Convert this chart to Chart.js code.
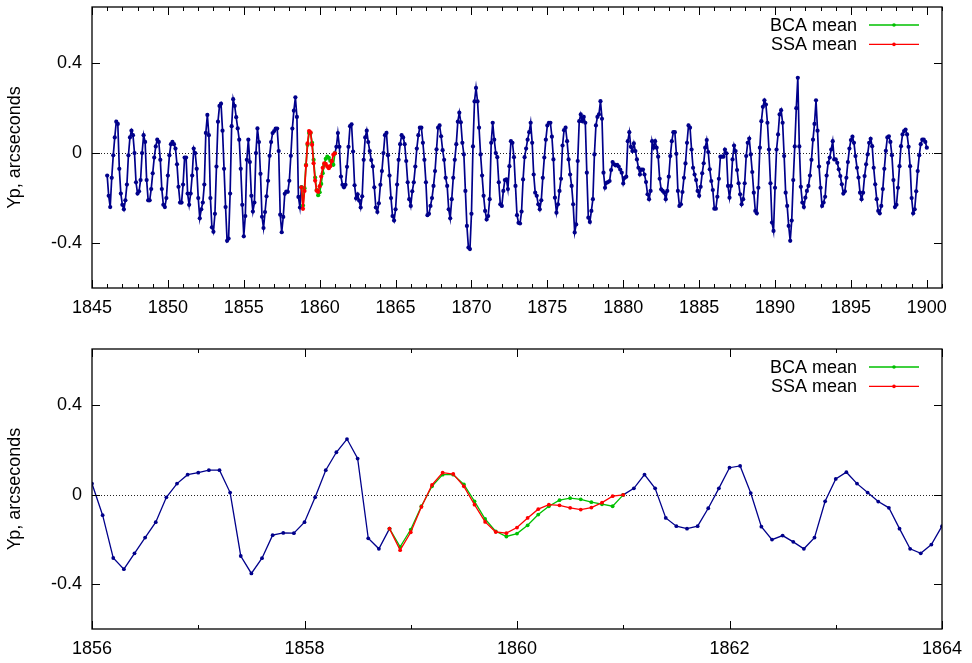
<!DOCTYPE html>
<html><head><meta charset="utf-8">
<script src="https://cdn.jsdelivr.net/npm/chart.js@4/dist/chart.umd.min.js"></script>
<style>
html,body{margin:0;padding:0;background:#fff;}
#wrap{position:relative;width:972px;height:663px;overflow:hidden;}
#c1{position:absolute;left:0;top:0;}
#c2{position:absolute;left:0;top:331px;}
</style></head><body>
<div id="wrap">
<canvas id="c1" width="972" height="331" style="width:972px;height:331px"></canvas>
<canvas id="c2" width="972" height="332" style="width:972px;height:332px"></canvas>
</div>
<script>
// ---------------- data ----------------
const startYear = 1846.0;
const stepYear = 0.1;
// Yp, arcseconds, every 0.1 year from 1846.0 to 1900.0 (null = gap)
const ypValues = [
 -0.10,-0.19,-0.24,-0.11,-0.01,0.07,0.14,0.13,-0.07,-0.18,            // 1846
 -0.23,-0.25,-0.21,-0.14,-0.01,0.07,0.10,0.08,0.00,-0.13,             // 1847
 -0.18,-0.17,-0.12,0.00,0.08,0.05,-0.12,-0.21,-0.21,-0.16,            // 1848
 -0.09,-0.02,0.03,0.06,0.05,-0.03,-0.16,-0.23,-0.24,-0.20,            // 1849
 -0.10,-0.01,0.04,0.05,0.04,0.02,-0.05,-0.15,-0.22,-0.22,             // 1850
 -0.14,-0.02,-0.02,-0.18,-0.23,-0.18,-0.10,0.02,0.00,-0.07,           // 1851
 -0.20,-0.29,-0.25,-0.22,-0.14,0.09,0.17,0.08,-0.20,-0.33,            // 1852
 -0.35,-0.27,-0.06,0.14,0.21,0.22,0.10,-0.07,-0.24,-0.39,             // 1853
 -0.38,-0.18,0.12,0.24,0.21,0.16,0.11,0.06,-0.07,-0.23,               // 1854
 -0.37,-0.28,-0.03,0.06,-0.04,-0.19,-0.26,-0.22,0.00,0.11,            // 1855
 0.049,-0.092,-0.283,-0.333,-0.262,-0.192,-0.123,-0.012,0.049,0.089,  // 1856
 0.098,0.109,0.109,0.009,-0.274,-0.352,-0.284,-0.181,-0.171,-0.172,   // 1857
 -0.123,-0.012,0.109,0.189,0.248,0.161,-0.195,-0.242,-0.152,null,     // 1858
 null,null,null,null,null,null,null,null,null,null,                   // 1859
 null,null,null,null,null,null,null,null,null,null,                   // 1860
 -0.001,0.028,0.089,0.028,-0.104,-0.141,-0.152,-0.141,-0.061,0.028,   // 1861
 0.120,0.128,0.007,-0.143,-0.201,-0.183,-0.211,-0.242,-0.192,-0.030,  // 1862
 0.070,0.100,0.049,0.009,-0.031,-0.059,-0.152,-0.242,-0.262,-0.223,   // 1863
 -0.141,-0.08,0.00,0.08,0.09,-0.01,-0.10,-0.20,-0.28,-0.30,           // 1864
 -0.25,-0.14,-0.03,0.04,0.08,0.07,0.04,-0.035,-0.13,-0.205,           // 1865
 -0.235,-0.17,-0.13,-0.06,0.02,0.08,0.113,0.113,0.046,-0.03,          // 1866
 -0.13,-0.276,-0.27,-0.235,-0.20,-0.146,-0.08,0.017,0.113,0.123,      // 1867
 0.075,0.013,-0.03,-0.11,-0.146,-0.25,-0.29,-0.205,-0.11,-0.03,       // 1868
 0.04,0.14,0.18,0.137,0.046,-0.006,-0.168,-0.324,-0.42,-0.427,        // 1869
 -0.27,0.03,0.23,0.29,0.23,0.113,-0.006,-0.10,-0.19,-0.257,           // 1870
 -0.295,-0.28,-0.205,0.046,0.135,0.06,0.00,-0.018,-0.13,-0.228,       // 1871
 -0.235,-0.168,-0.12,-0.117,-0.16,-0.058,0.053,0.046,-0.018,-0.146,   // 1872
 -0.276,-0.31,-0.313,-0.26,-0.117,-0.018,0.02,0.06,0.093,0.135,       // 1873
 0.046,-0.095,-0.176,-0.19,-0.228,-0.25,-0.21,-0.11,-0.02,0.06,       // 1874
 0.123,0.135,0.135,0.073,-0.028,-0.198,-0.265,-0.228,-0.168,-0.114,   // 1875
 0.034,0.102,0.113,0.053,-0.028,-0.095,-0.146,-0.228,-0.353,-0.317,   // 1876
 -0.035,0.142,0.172,0.142,0.161,0.135,-0.087,-0.287,-0.306,-0.257,    // 1877
 -0.205,-0.006,0.123,0.161,0.172,0.231,0.153,-0.087,-0.154,-0.132,    // 1878
 -0.129,-0.124,-0.075,-0.04,-0.05,-0.055,-0.052,-0.06,-0.073,-0.087,  // 1879
 -0.135,-0.11,-0.105,0.053,0.093,0.028,0.009,0.043,0.009,-0.028,      // 1880
 -0.065,-0.095,-0.073,-0.073,-0.095,-0.129,-0.183,-0.205,-0.168,0.053,// 1881
 0.024,0.053,0.024,-0.016,-0.114,-0.161,-0.168,-0.176,-0.205,-0.168,  // 1882
 -0.105,-0.013,0.053,0.093,0.093,-0.003,-0.168,-0.235,-0.228,-0.173,  // 1883
 -0.11,-0.046,0.046,0.123,0.113,0.016,-0.065,-0.095,-0.12,-0.168,     // 1884
 -0.19,-0.15,-0.09,-0.045,0.024,0.058,0.005,-0.072,-0.124,-0.164,     // 1885
 -0.247,-0.247,-0.194,-0.114,-0.016,-0.016,-0.016,0.016,-0.001,-0.146,// 1886
 -0.198,-0.146,-0.028,0.034,0.009,-0.075,-0.134,-0.183,-0.228,-0.205, // 1887
 -0.134,-0.013,0.046,0.065,-0.006,-0.084,-0.176,-0.257,-0.268,-0.154, // 1888
 0.024,0.142,0.206,0.235,0.216,0.135,0.016,-0.134,-0.309,-0.346,      // 1889
 -0.154,0.016,0.083,0.172,0.191,0.135,-0.013,-0.176,-0.235,-0.324,    // 1890
 -0.39,-0.30,-0.12,0.03,0.20,0.335,0.03,-0.15,-0.22,-0.24,            // 1891
 -0.198,-0.168,-0.146,-0.10,-0.03,0.06,0.13,0.235,0.10,-0.06,         // 1892
 -0.154,-0.235,-0.22,-0.194,-0.10,-0.043,-0.02,0.016,0.053,-0.028,    // 1893
 -0.028,-0.043,-0.072,-0.102,-0.139,-0.18,-0.17,-0.11,-0.04,0.02,     // 1894
 0.058,0.073,0.046,-0.013,-0.065,-0.109,-0.176,-0.205,-0.176,-0.102,  // 1895
 -0.05,-0.006,0.046,0.064,0.031,-0.065,-0.139,-0.205,-0.257,-0.268,   // 1896
 -0.235,-0.16,-0.07,0.01,0.07,0.075,0.05,-0.01,-0.12,-0.24,           // 1897
 -0.23,-0.154,-0.058,0.031,0.083,0.098,0.105,0.083,0.028,-0.058,      // 1898
 -0.2,-0.268,-0.25,-0.17,-0.08,-0.01,0.04,0.06,0.06,0.05,             // 1899
 0.024                                                                // 1900
];
const meanStartYear = 1858.8;
const bcaMean = [-0.152,-0.233,-0.156,-0.052,0.037,0.089,0.089,0.046,-0.030,-0.109,-0.164,-0.187,
                 -0.174,-0.137,-0.089,-0.052,-0.025,-0.016,-0.021,-0.034,-0.043,-0.052,-0.001];
const ssaMean = [-0.152,-0.248,-0.168,-0.055,0.043,0.098,0.092,0.037,-0.045,-0.122,-0.167,-0.172,
                 -0.147,-0.104,-0.065,-0.045,-0.048,-0.059,-0.067,-0.058,-0.036,-0.007,-0.001];
const seriesLabels = ['Yp', 'BCA mean', 'SSA mean'];
const topXTicks = [1845,1850,1855,1860,1865,1870,1875,1880,1885,1890,1895,1900];
const bottomXTicks = [1856,1858,1860,1862,1864];
const yTicks = [-0.4, 0, 0.4];
const yTickLabels = ['-0.4', '0', '0.4'];
const yAxisTitle = 'Yp, arcseconds';

// ---------------- build ----------------
const toPts = (arr, x0) => arr.map((v, i) => ({x: +(x0 + i * stepYear).toFixed(1), y: v}));
const ypPts = toPts(ypValues, startYear);
const bcaPts = toPts(bcaMean, meanStartYear);
const ssaPts = toPts(ssaMean, meanStartYear);

const FONT = '"Liberation Sans", Arial, Helvetica, sans-serif';
const BLUE = '#00008b', GREEN = '#00c000', RED = '#ff0000';

const framePlugin = {
  id: 'frameTicks',
  beforeDatasetsDraw(chart) {
    const {ctx, chartArea: a, scales: {y}} = chart;
    const y0 = Math.round(y.getPixelForValue(0)) + 0.5;
    ctx.save();
    ctx.strokeStyle = '#222';
    ctx.lineWidth = 1;
    ctx.setLineDash([1, 2]);
    ctx.beginPath(); ctx.moveTo(a.left, y0); ctx.lineTo(a.right, y0); ctx.stroke();
    ctx.restore();
  },
  afterDraw(chart) {
    const {ctx, chartArea: a, scales: {x, y}} = chart;
    const o = chart.options.plugins.frameTicks;
    ctx.save();
    ctx.strokeStyle = '#000';
    ctx.lineWidth = 1;
    for (let v = Math.ceil(x.min); v <= x.max; v += 1) {
      const px = Math.round(x.getPixelForValue(v)) + 0.5;
      const len = o.xMajor.includes(v) ? 8 : 4;
      ctx.beginPath();
      ctx.moveTo(px, a.bottom); ctx.lineTo(px, a.bottom - len);
      ctx.moveTo(px, a.top); ctx.lineTo(px, a.top + len);
      ctx.stroke();
    }
    yTicks.forEach(v => {
      const py = Math.round(y.getPixelForValue(v)) + 0.5;
      ctx.beginPath();
      ctx.moveTo(a.left, py); ctx.lineTo(a.left + 8, py);
      ctx.moveTo(a.right, py); ctx.lineTo(a.right - 8, py);
      ctx.stroke();
    });
    ctx.lineWidth = 1.3;
    ctx.strokeRect(a.left, a.top, a.right - a.left, a.bottom - a.top);
    ctx.restore();
  }
};

const keyPlugin = {
  id: 'keyBox',
  afterDraw(chart) {
    const {ctx, chartArea: a} = chart;
    const items = [chart.data.datasets[1], chart.data.datasets[0]];
    ctx.save();
    ctx.font = '18px ' + FONT;
    ctx.textAlign = 'right';
    ctx.textBaseline = 'middle';
    items.forEach((ds, i) => {
      const yy = a.top + 18 + i * 19.4;
      ctx.fillStyle = '#000';
      ctx.fillText(ds.label, a.right - 85, yy + 1);
      ctx.strokeStyle = ds.borderColor;
      ctx.lineWidth = 1.3;
      ctx.beginPath(); ctx.moveTo(a.right - 73, yy); ctx.lineTo(a.right - 23, yy); ctx.stroke();
      ctx.fillStyle = ds.borderColor;
      ctx.beginPath(); ctx.arc(a.right - 48, yy, 1.8, 0, Math.PI * 2); ctx.fill();
    });
    ctx.restore();
  }
};

function ds(label, data, color, lw, r, clip) {
  const d = {label, data, borderColor: color, backgroundColor: color, pointBackgroundColor: color,
    pointBorderColor: color, pointBorderWidth: 0, borderWidth: lw, pointRadius: r, pointHoverRadius: r,
    fill: false, tension: 0, spanGaps: false};
  if (clip !== undefined) d.clip = clip;
  return d;
}

function makeChart(id, xmin, xmax, xTicks, padTop, xAxisH, lw, r, clip) {
  return new Chart(document.getElementById(id), {
    type: 'line',
    data: {datasets: [
      ds(seriesLabels[2], ssaPts, RED, lw, r, clip),
      ds(seriesLabels[1], bcaPts, GREEN, lw, r, clip),
      ds(seriesLabels[0], ypPts, BLUE, lw, r, clip)
    ]},
    options: {
      responsive: false, animation: false, events: [],
      layout: {padding: {top: padTop, right: 30, left: 0, bottom: 0}},
      plugins: {legend: {display: false}, tooltip: {enabled: false}, frameTicks: {xMajor: xTicks}},
      scales: {
        x: {
          type: 'linear', min: xmin, max: xmax,
          afterBuildTicks: s => { s.ticks = xTicks.map(v => ({value: v})); },
          afterFit: s => { s.height = xAxisH; s.paddingLeft = 0; s.paddingRight = 0; },
          grid: {display: false, drawTicks: false}, border: {display: false},
          ticks: {padding: 9, color: '#000', font: {family: FONT, size: 18}, maxRotation: 0, autoSkip: false,
                  callback: v => String(v)}
        },
        y: {
          type: 'linear', min: -0.6, max: 0.65,
          afterBuildTicks: s => { s.ticks = yTicks.map(v => ({value: v})); },
          afterFit: s => { s.width = 92; s.paddingTop = 0; s.paddingBottom = 0; },
          grid: {display: false, drawTicks: false}, border: {display: false},
          ticks: {padding: 10, color: '#000', font: {family: FONT, size: 18},
                  callback: v => yTickLabels[yTicks.indexOf(v)]},
          title: {display: true, text: yAxisTitle, color: '#000', font: {family: FONT, size: 18},
                  padding: {top: 4, bottom: 0}}
        }
      }
    },
    plugins: [framePlugin, keyPlugin]
  });
}

makeChart('c1', 1845, 1901, topXTicks, 7, 43, 1.7, 2.1, undefined);
makeChart('c2', 1856, 1864, bottomXTicks, 18, 34, 1.3, 1.9, 0);
</script>
</body></html>
